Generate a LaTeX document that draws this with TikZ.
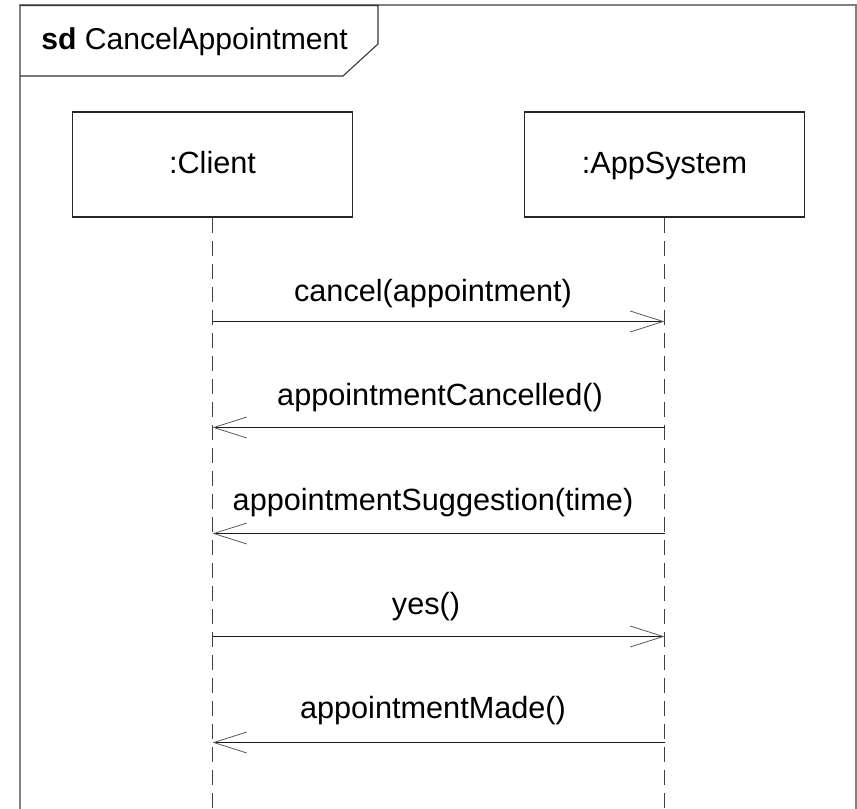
\documentclass[tikz,border=0pt]{standalone}
\usepackage{fontspec}
\setmainfont{Liberation Sans}
\usetikzlibrary{arrows.meta}
\begin{document}
\begin{tikzpicture}[x=0.75pt,y=-0.75pt,
  every node/.style={font=\fontsize{23}{27}\selectfont, text=black},
  framestyle/.style={draw=black!50, line width=1.5pt},
  tabstyle/.style={draw=black!80, line width=0.8pt},
  lifebox/.style={draw=black!85, line width=0.8pt, fill=white,
    minimum width=210pt, minimum height=78.75pt, inner sep=0pt,
    text height=17pt, text depth=4.2pt},
  lifeline/.style={draw=black!75, line width=0.75pt, dash pattern=on 11.25pt off 6pt},
  msg/.style={draw=black!90, line width=1pt,
    -{Straight Barb[length=24.75pt,width=15.75pt,line width=0.6pt,color=black!65]}},
  msglabel/.style={anchor=base, inner sep=0pt},
]
  \useasboundingbox (0,0) rectangle (857,809);
  \clip (0,0) rectangle (857,809);

  % interaction frame and its name tab
  \draw[framestyle] (20,5.5) rectangle (856,860);
  \draw[tabstyle] (20,5.5) -- (378,5.5) -- (378,44) -- (343,76) -- (20,76);
  \node[anchor=base west, inner sep=0pt, font=\fontsize{22.6}{26}\selectfont]
    (title) at (41,50) {\textbf{sd} CancelAppointment};

  % lifeline heads
  \node[lifebox] (client) at (212.5,164.5) {:Client};
  \node[lifebox] (app) at (664.5,164.5) {:AppSystem};

  % lifeline ends below the visible area
  \coordinate (clientend) at (212.5,860);
  \coordinate (append) at (664.5,860);
  \draw[lifeline] (client.south) -- (clientend);
  \draw[lifeline] (app.south) -- (append);

  % message end points on the lifelines
  \foreach \n/\y in {1/321.5,2/427.5,3/533.5,4/636.5,5/742.5}{
    \coordinate (c\n) at (212.5,\y);
    \coordinate (a\n) at (664.5,\y);
  }

  % messages
  \draw[msg] (c1) -- (a1);
  \node[msglabel] (m1) at (433,302) {cancel(appointment)};

  \draw[msg] (a2) -- (c2);
  \node[msglabel] (m2) at (440,405) {appointmentCancelled()};

  \draw[msg] (a3) -- (c3);
  \node[msglabel] (m3) at (433,510) {appointmentSuggestion(time)};

  \draw[msg] (c4) -- (a4);
  \node[msglabel] (m4) at (426,614) {yes()};

  \draw[msg] (a5) -- (c5);
  \node[msglabel] (m5) at (433,718) {appointmentMade()};
\end{tikzpicture}
\end{document}
